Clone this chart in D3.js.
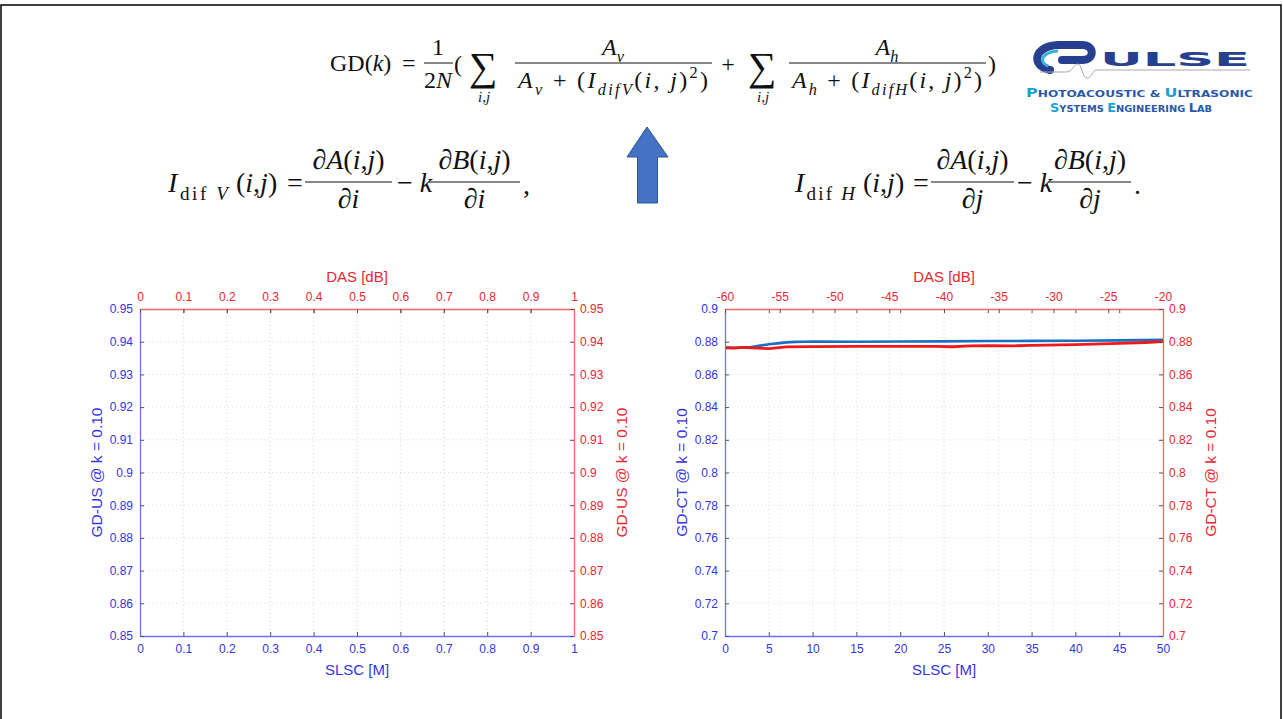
<!DOCTYPE html>
<html>
<head>
<meta charset="utf-8">
<script src="https://cdn.jsdelivr.net/npm/d3@7"></script>
<style>
  body { margin: 0; background: #fff; }
  text { white-space: pre; }
</style>
</head>
<body>
<div id="slide"></div>
<script>
// ---- data ----
var usSlscTicks = [0, 0.1, 0.2, 0.3, 0.4, 0.5, 0.6, 0.7, 0.8, 0.9, 1];
var usDasTicks = [0, 0.1, 0.2, 0.3, 0.4, 0.5, 0.6, 0.7, 0.8, 0.9, 1];
var usGdTicks = [0.85, 0.86, 0.87, 0.88, 0.89, 0.9, 0.91, 0.92, 0.93, 0.94, 0.95];

var ctSlscTicks = [0, 5, 10, 15, 20, 25, 30, 35, 40, 45, 50];
var ctDasTicks = [-60, -55, -50, -45, -40, -35, -30, -25, -20];
var ctGdTicks = [0.7, 0.72, 0.74, 0.76, 0.78, 0.8, 0.82, 0.84, 0.86, 0.88, 0.9];

// GD-CT vs SLSC M (blue)
var ctSlscM  = [0, 1, 2, 3, 4, 5, 6, 7, 8, 9, 10, 15, 20, 25, 30, 35, 40, 45, 50];
var ctSlscGd = [0.8765, 0.8762, 0.8765, 0.8768, 0.8776, 0.8784, 0.879, 0.8796, 0.8799, 0.88, 0.8801, 0.88, 0.8801, 0.8802, 0.8804, 0.8805, 0.8806, 0.8808, 0.8811];
// GD-CT vs DAS dB (red)
var ctDasDb = [-60, -59.2, -58.4, -57.6, -56, -54.4, -52, -48, -44, -40.8, -39.2, -37.6, -36, -33.6, -32, -28, -24, -21.6, -20];
var ctDasGd = [0.8763, 0.8761, 0.8765, 0.8762, 0.8758, 0.8768, 0.877, 0.8771, 0.8772, 0.8772, 0.8769, 0.8774, 0.8776, 0.8775, 0.8778, 0.8782, 0.879, 0.8795, 0.88];

var blueAxis = "#7070ff", blueText = "#3434e0";
var redAxis = "#ff6464", redText = "#e8262f";
var sansFont = "'Liberation Sans', Arial, sans-serif";
var serifFont = "'Liberation Serif', 'Times New Roman', serif";

var svg = d3.select("#slide").append("svg")
    .attr("width", 1283)
    .attr("height", 719);

svg.append("rect").attr("width", 1283).attr("height", 719).attr("fill", "#fff");
// slide frame
svg.append("rect")
    .attr("x", 1).attr("y", 5).attr("width", 1280).attr("height", 730)
    .attr("fill", "none").attr("stroke", "#000").attr("stroke-width", 1.5);

// ---- little helper for the formulas ----
function mathText(parent, x, y, size, pieces, anchor, len) {
    var txt = parent.append("text")
        .attr("x", x).attr("y", y)
        .attr("font-family", serifFont)
        .attr("font-size", size)
        .attr("text-anchor", anchor || "start")
        .attr("fill", "#111");
    if (len) txt.attr("textLength", len).attr("lengthAdjust", "spacing");
    var cur = 0;
    pieces.forEach(function(p) {
        var off = p.s === "sub" ? size * 0.28 : (p.s === "sup" ? -size * 0.42 : 0);
        txt.append("tspan")
            .attr("dy", off - cur)
            .attr("font-size", p.s ? size * 0.68 : size)
            .attr("font-style", p.i ? "italic" : "normal")
            .text(p.t);
        cur = off;
    });
    return txt;
}

function bar(parent, x1, x2, y, w) {
    parent.append("line")
        .attr("x1", x1).attr("x2", x2).attr("y1", y).attr("y2", y)
        .attr("stroke", "#111").attr("stroke-width", w || 1);
}

// ---- GD(k) formula ----
var f1 = svg.append("g");
var fs = 24;
mathText(f1, 330, 71, fs, [{t: "GD("}, {t: "k", i: 1}, {t: ")"}]);
mathText(f1, 402, 71, fs, [{t: "="}]);
mathText(f1, 438, 55, fs, [{t: "1"}], "middle");
bar(f1, 424, 453, 63);
mathText(f1, 438, 88, fs, [{t: "2"}, {t: "N", i: 1}], "middle");
mathText(f1, 454, 72, fs, [{t: "("}]);
mathText(f1, 483, 80, 40, [{t: "\u2211"}], "middle");
mathText(f1, 484, 102, 15, [{t: "i", i: 1}, {t: ","}, {t: "j", i: 1}], "middle");
mathText(f1, 613, 55, fs, [{t: "A", i: 1}, {t: "v", i: 1, s: "sub"}], "middle");
bar(f1, 515, 712, 63);
mathText(f1, 613, 88, fs, [{t: "A", i: 1}, {t: "v", i: 1, s: "sub"}, {t: " + ("}, {t: "I", i: 1},
    {t: "difV", i: 1, s: "sub"}, {t: "("}, {t: "i", i: 1}, {t: ", "}, {t: "j", i: 1}, {t: ")"},
    {t: "2", s: "sup"}, {t: ")"}], "middle", 190);
mathText(f1, 728, 72, fs, [{t: "+"}], "middle");
mathText(f1, 762, 80, 40, [{t: "\u2211"}], "middle");
mathText(f1, 763, 102, 15, [{t: "i", i: 1}, {t: ","}, {t: "j", i: 1}], "middle");
mathText(f1, 887, 55, fs, [{t: "A", i: 1}, {t: "h", i: 1, s: "sub"}], "middle");
bar(f1, 789, 986, 63);
mathText(f1, 887, 88, fs, [{t: "A", i: 1}, {t: "h", i: 1, s: "sub"}, {t: " + ("}, {t: "I", i: 1},
    {t: "difH", i: 1, s: "sub"}, {t: "("}, {t: "i", i: 1}, {t: ", "}, {t: "j", i: 1}, {t: ")"},
    {t: "2", s: "sup"}, {t: ")"}], "middle", 190);
mathText(f1, 988, 72, fs, [{t: ")"}]);

// ---- I_dif formulas ----
function idifFormula(p) {
    var g = svg.append("g");
    var s = 28;
    mathText(g, p.x0, 192, s, [{t: "I", i: 1}, {t: "dif ", s: "sub"}, {t: p.dir, i: 1, s: "sub"}], "start", 60);
    mathText(g, p.x0 + 68, 192, s, [{t: "("}, {t: "i", i: 1}, {t: ","}, {t: "j", i: 1}, {t: ")"}]);
    mathText(g, p.eq, 192, s, [{t: "="}]);
    mathText(g, (p.b1[0] + p.b1[1]) / 2, 169, s, [{t: "\u2202A", i: 1}, {t: "("}, {t: "i", i: 1}, {t: ","}, {t: "j", i: 1}, {t: ")"}], "middle");
    bar(g, p.b1[0], p.b1[1], 182, 1.2);
    mathText(g, (p.b1[0] + p.b1[1]) / 2, 208, s, [{t: "\u2202" + p.wrt, i: 1}], "middle");
    mathText(g, p.k, 192, s, [{t: "\u2212 "}, {t: "k", i: 1}]);
    mathText(g, (p.b2[0] + p.b2[1]) / 2, 169, s, [{t: "\u2202B", i: 1}, {t: "("}, {t: "i", i: 1}, {t: ","}, {t: "j", i: 1}, {t: ")"}], "middle");
    bar(g, p.b2[0], p.b2[1], 182, 1.2);
    mathText(g, (p.b2[0] + p.b2[1]) / 2, 208, s, [{t: "\u2202" + p.wrt, i: 1}], "middle");
    mathText(g, p.b2[1] + 3, 194, s, [{t: p.tail}]);
}
idifFormula({x0: 168, dir: "V", wrt: "i", eq: 287, b1: [305, 392], k: 397, b2: [429, 520], tail: ","});
idifFormula({x0: 795, dir: "H", wrt: "j", eq: 913, b1: [931, 1014], k: 1017, b2: [1049, 1131], tail: "."});

// ---- blue arrow ----
svg.append("path")
    .attr("d", "M647,127 L668,157 L657.5,157 L657.5,203 L637.5,203 L637.5,157 L627,157 Z")
    .attr("fill", "#4472c4")
    .attr("stroke", "#2f528f")
    .attr("stroke-width", 1);

// ---- PULSE logo ----
var logo = svg.append("g");
logo.append("path")
    .attr("d", "M1050,70 C1030,66 1034,46 1058,45 L1082,45 C1095,45 1095,60 1082,60 L1062,60")
    .attr("fill", "none").attr("stroke", "#26408f").attr("stroke-width", 8).attr("stroke-linecap", "round");
logo.append("path")
    .attr("d", "M1048,66 C1038,62 1042,52 1058,51")
    .attr("fill", "none").attr("stroke", "#35b3e0").attr("stroke-width", 3);
logo.append("path")
    .attr("d", "M1040,72 L1066,72 C1072,72 1074,64 1078,64 C1082,64 1082,78 1087,78 C1092,78 1092,70 1097,70 L1250,70")
    .attr("fill", "none").attr("stroke", "#a8a8a8").attr("stroke-width", 1);
logo.append("text")
    .attr("x", 1100).attr("y", 66)
    .attr("font-family", "'DejaVu Sans', sans-serif").attr("font-weight", "bold")
    .attr("font-size", 19)
    .attr("textLength", 150).attr("lengthAdjust", "spacingAndGlyphs")
    .attr("fill", "#26408f")
    .text("ULSE");

function logoLine(x, y, len, parts) {
    var t = logo.append("text")
        .attr("x", x).attr("y", y)
        .attr("font-family", "'DejaVu Sans', sans-serif").attr("font-weight", "bold")
        .attr("textLength", len).attr("lengthAdjust", "spacingAndGlyphs");
    parts.forEach(function(p) {
        t.append("tspan").attr("font-size", p[2]).attr("fill", p[1]).text(p[0]);
    });
}
logoLine(1026, 97, 227, [["P", "#1f9fd0", 12.5], ["HOTOACOUSTIC & ", "#2c56a8", 9.5], ["U", "#1f9fd0", 12.5], ["LTRASONIC", "#2c56a8", 9.5]]);
logoLine(1050, 112, 162, [["S", "#1f9fd0", 12.5], ["YSTEMS ", "#2c56a8", 9.5], ["E", "#1f9fd0", 12.5], ["NGINEERING ", "#2c56a8", 9.5], ["L", "#2c56a8", 12.5], ["AB", "#2c56a8", 9.5]]);

// ---- dual-axis chart (MATLAB plotyy look) ----
DualAxisChart = function(_cfg) {
    var vis = this;
    this.cfg = _cfg;
    this.left = _cfg.left;
    this.top = 309;
    this.width = _cfg.right - _cfg.left;
    this.height = 636 - 309;

    vis.initVis();
};

DualAxisChart.prototype.initVis = function() {
    var vis = this;
    var c = vis.cfg;

    vis.g = svg.append("g")
        .attr("transform", "translate(" + vis.left + "," + vis.top + ")");

    vis.x = d3.scaleLinear().domain(d3.extent(c.xTicks)).range([0, vis.width]);
    vis.xTop = d3.scaleLinear().domain(d3.extent(c.topTicks)).range([0, vis.width]);
    vis.y = d3.scaleLinear().domain(d3.extent(c.yTicks)).range([vis.height, 0]);

    vis.drawGrid();
    vis.drawLines();
    vis.drawAxes();
};

DualAxisChart.prototype.drawGrid = function() {
    var vis = this;
    var grid = vis.g.append("g")
        .attr("stroke", "#d6d6d6").attr("stroke-width", 0.8).attr("stroke-dasharray", "1,3");

    var xs = vis.cfg.xTicks.map(vis.x).concat(vis.cfg.topTicks.map(vis.xTop));
    xs.forEach(function(px) {
        if (px < 1 || px > vis.width - 1) return;
        grid.append("line").attr("x1", px).attr("x2", px).attr("y1", 0).attr("y2", vis.height);
    });
    vis.cfg.yTicks.forEach(function(v) {
        var py = vis.y(v);
        if (py < 1 || py > vis.height - 1) return;
        grid.append("line").attr("x1", 0).attr("x2", vis.width).attr("y1", py).attr("y2", py);
    });
};

DualAxisChart.prototype.drawLines = function() {
    var vis = this;
    var c = vis.cfg;
    if (c.blueX) {
        var blueLine = d3.line()
            .x(function(d, i) { return vis.x(c.blueX[i]); })
            .y(function(d) { return vis.y(d); });
        vis.g.append("path")
            .attr("d", blueLine(c.blueY))
            .attr("fill", "none").attr("stroke", "#1a6fc4").attr("stroke-width", 2.6);
    }
    if (c.redX) {
        var redLine = d3.line()
            .x(function(d, i) { return vis.xTop(c.redX[i]); })
            .y(function(d) { return vis.y(d); });
        vis.g.append("path")
            .attr("d", redLine(c.redY))
            .attr("fill", "none").attr("stroke", "#f01818").attr("stroke-width", 2.8);
    }
};

function fmt(d) { return String(+d.toFixed(2)); }

function styleAxis(sel, lineCol, textCol) {
    sel.selectAll("path.domain").attr("stroke", lineCol).attr("stroke-width", 1.3);
    sel.selectAll(".tick line").attr("stroke", "#555").attr("stroke-width", 1);
    sel.selectAll("text")
        .attr("fill", textCol)
        .attr("font-family", sansFont)
        .attr("font-size", 12);
}

DualAxisChart.prototype.drawAxes = function() {
    var vis = this;
    var c = vis.cfg;

    // mirrored blue ticks along the top edge
    vis.g.append("g")
        .call(d3.axisTop(vis.x).tickValues(c.xTicks).tickSize(-4).tickSizeOuter(0).tickFormat(""))
        .call(function(s) { s.select("path.domain").remove(); s.selectAll(".tick line").attr("stroke", "#555"); });

    var bottom = vis.g.append("g")
        .attr("transform", "translate(0," + vis.height + ")")
        .call(d3.axisBottom(vis.x).tickValues(c.xTicks).tickSize(-4).tickSizeOuter(0).tickPadding(8).tickFormat(fmt));
    styleAxis(bottom, blueAxis, blueText);

    var leftAx = vis.g.append("g")
        .call(d3.axisLeft(vis.y).tickValues(c.yTicks).tickSize(-4).tickSizeOuter(0).tickPadding(7).tickFormat(fmt));
    styleAxis(leftAx, blueAxis, blueText);

    var topAx = vis.g.append("g")
        .call(d3.axisTop(vis.xTop).tickValues(c.topTicks).tickSize(-4).tickSizeOuter(0).tickPadding(8).tickFormat(fmt));
    styleAxis(topAx, redAxis, redText);

    var rightAx = vis.g.append("g")
        .attr("transform", "translate(" + vis.width + ",0)")
        .call(d3.axisRight(vis.y).tickValues(c.yTicks).tickSize(-4).tickSizeOuter(0).tickPadding(6).tickFormat(fmt));
    styleAxis(rightAx, redAxis, redText);

    // axis titles
    vis.g.append("text")
        .attr("x", vis.width / 2).attr("y", -27)
        .attr("text-anchor", "middle")
        .attr("font-family", sansFont).attr("font-size", 15)
        .attr("fill", redText)
        .text("DAS [dB]");
    vis.g.append("text")
        .attr("x", vis.width / 2).attr("y", vis.height + 39)
        .attr("text-anchor", "middle")
        .attr("font-family", sansFont).attr("font-size", 15)
        .attr("fill", blueText)
        .text("SLSC [M]");
    vis.g.append("text")
        .attr("transform", "translate(-38," + (vis.height / 2) + ") rotate(-90)")
        .attr("text-anchor", "middle")
        .attr("font-family", sansFont).attr("font-size", 15.5)
        .attr("fill", blueText)
        .text(c.yLabel);
    vis.g.append("text")
        .attr("transform", "translate(" + (vis.width + 53) + "," + (vis.height / 2) + ") rotate(-90)")
        .attr("text-anchor", "middle")
        .attr("font-family", sansFont).attr("font-size", 15.5)
        .attr("fill", redText)
        .text(c.yLabel);
};

var usChart = new DualAxisChart({
    left: 140, right: 574,
    xTicks: usSlscTicks, topTicks: usDasTicks, yTicks: usGdTicks,
    yLabel: "GD-US @ k = 0.10"
});

var ctChart = new DualAxisChart({
    left: 725, right: 1163,
    xTicks: ctSlscTicks, topTicks: ctDasTicks, yTicks: ctGdTicks,
    yLabel: "GD-CT @ k = 0.10",
    blueX: ctSlscM, blueY: ctSlscGd,
    redX: ctDasDb, redY: ctDasGd
});
</script>
</body>
</html>
